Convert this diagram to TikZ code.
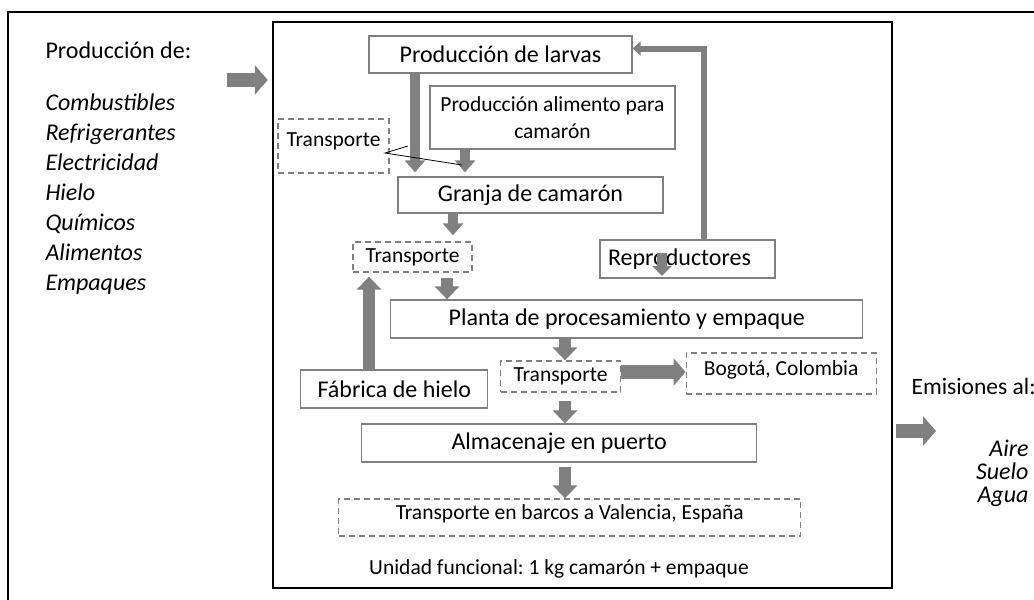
\documentclass[tikz,border=0pt]{standalone}
\usepackage{fontspec}
\setmainfont{Carlito}
\frenchspacing
\usetikzlibrary{arrows.meta}
\definecolor{boxgray}{RGB}{128,128,128}
\definecolor{flowgray}{RGB}{128,128,128}
\tikzset{
  txtbig/.style={font=\fontsize{24}{29}\selectfont},
  txtsmall/.style={font=\fontsize{21.5}{26.5}\selectfont},
  box/.style={draw=boxgray, line width=1.3pt, fill=white, inner sep=0pt, txtbig},
  dbox/.style={box, dash pattern=on 6pt off 4pt, txtsmall},
  flow/.style={draw=flowgray, line width=10pt, -{Triangle[width=20pt,length=12pt]}},
  wideflow/.style={draw=flowgray, line width=12.5pt, -{Triangle[width=24pt,length=13pt]}},
  bigflow/.style={draw=flowgray, line width=14pt, -{Triangle[width=29pt,length=13pt]}},
}
\begin{document}
\begin{tikzpicture}[x=1pt,y=-1pt]
\clip (0,0) rectangle (1034,600);
% frames
\draw[line width=2pt] (8,620) -- (8,12) -- (1050,12);
\node[draw, line width=2.5pt, minimum width=619pt, minimum height=566pt, inner sep=0pt] (sistema) at (582.5,305) {};
% inputs and outputs
\node[txtbig, anchor=base west] (prod) at (42,58) {Producción de:};
\foreach \name [count=\i] in {Combustibles,Refrigerantes,Electricidad,Hielo,Químicos,Alimentos,Empaques}
  \node[font=\fontsize{24}{29}\selectfont\itshape, anchor=base west] (in\i) at (42,80+30*\i) {\name};
\node[font=\fontsize{23.5}{29}\selectfont, anchor=base west] (emis) at (908,394) {Emisiones al:};
\foreach \name [count=\i] in {Aire,Suelo,Agua}
  \node[font=\fontsize{24}{29}\selectfont\itshape, anchor=base east] (out\i) at (1032,433+23*\i) {\name};
% stages
\node[box, minimum width=263pt, minimum height=37pt] (larvas) at (500.5,54.5) {Producción de larvas};
\node[box, txtsmall, align=center, minimum width=245pt, minimum height=63pt] (alimento) at (552.5,117.5) {Producción alimento para\\camarón};
\node[dbox, text depth=12pt, minimum width=111pt, minimum height=54pt] (trA) at (333.5,146) {Transporte};
\node[box, minimum width=265pt, minimum height=36pt] (granja) at (530.5,195) {Granja de camarón};
\node[dbox, minimum width=119pt, minimum height=30pt] (trB) at (412.5,257) {Transporte};
\node[box, text width=159pt, align=left, minimum width=175pt, minimum height=38pt] (repro) at (687.5,259) {Reproductores};
\node[box, minimum width=472pt, minimum height=38pt] (planta) at (626.8,319) {Planta de procesamiento y empaque};
\node[dbox, minimum width=120pt, minimum height=31pt] (trC) at (560.5,376.5) {Transporte};
\node[dbox, text depth=11pt, minimum width=190pt, minimum height=41pt] (bogota) at (781.2,373.5) {Bogotá, Colombia};
\node[box, minimum width=187pt, minimum height=38pt] (hielo) at (394.3,389) {Fábrica de hielo};
\node[box, minimum width=395pt, minimum height=38pt] (almacen) at (559.2,443) {Almacenaje en puerto};
\node[dbox, text depth=10pt, minimum width=462pt, minimum height=37pt] (barcos) at (569.8,517.5) {Transporte en barcos a Valencia, España};
\node[txtsmall] (unidad) at (559,569) {Unidad funcional: 1 kg camarón + empaque};
% columns of the arrows
\coordinate (colA) at (415,0);
\coordinate (colB) at (465,0);
\coordinate (colC) at (453,0);
\coordinate (colD) at (447,0);
\coordinate (colE) at (369,0);
\coordinate (colF) at (565,0);
\coordinate (colR) at (703.5,0);
\coordinate (rowR) at (0,48.5);
\coordinate (rowB) at (0,372);
\coordinate (inL) at (227,80);
\coordinate (outR) at (936,431);
% flows
\draw[bigflow, shorten >=4pt] (inL) -- (sistema.west |- inL);
\draw[bigflow, shorten <=3pt] (sistema.east |- outR) -- (outR);
\draw[flow, shorten >=4pt] (larvas.south -| colA) -- (granja.north -| colA);
\draw[flow, shorten >=4pt] (alimento.south -| colB) -- (granja.north -| colB);
\draw[flow, shorten >=6pt] (granja.south -| colC) -- (trB.north -| colC);
\draw[wideflow, shorten <=5pt] (trB.south -| colD) -- (planta.north -| colD);
\draw[wideflow, shorten >=4pt] (hielo.north -| colE) -- (trB.south -| colE);
\draw[wideflow] (planta.south -| colF) -- (trC.north -| colF);
\draw[draw=flowgray, line width=14pt, -{Triangle[width=27pt,length=12pt]}] (trC.east |- rowB) -- (bogota.west |- rowB);
\draw[wideflow, shorten <=8pt] (trC.south -| colF) -- (almacen.north -| colF);
\draw[wideflow, shorten <=4pt] (almacen.south -| colF) -- (barcos.north -| colF);
\draw[draw=flowgray, line width=6pt, -{Triangle[width=14pt,length=8pt]}] (repro.north -| colR) |- (larvas.east |- rowR);
\coordinate (stubA) at (662,253);
\coordinate (stubB) at (662,276);
\draw[flow, -{Triangle[width=19pt,length=10pt]}] (stubA) -- (stubB);
% thin lines from the first transport
\coordinate (trtip) at (385,153);
\coordinate (tA1) at (408,146);
\coordinate (tA2) at (462,165);
\draw[line width=0.8pt] (tA1) -- (trtip) -- (tA2);
\end{tikzpicture}
\end{document}
